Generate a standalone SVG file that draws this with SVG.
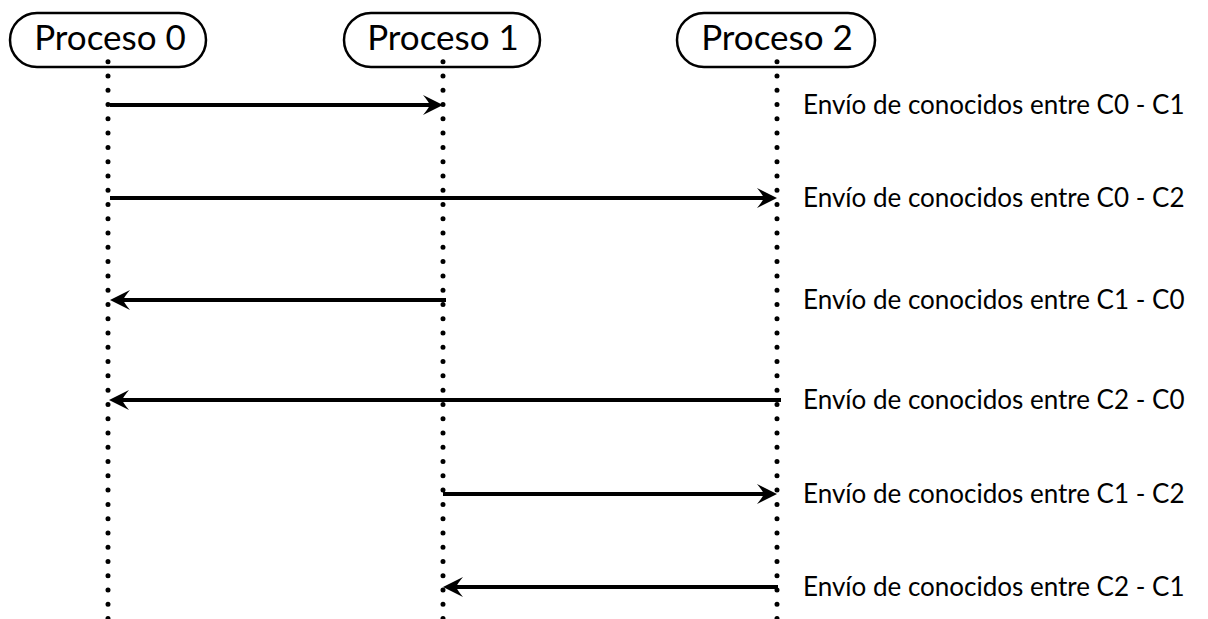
<svg xmlns="http://www.w3.org/2000/svg" width="1208" height="619" viewBox="0 0 1208 619">
  <style>
    .box { fill: #ffffff; stroke: #000000; stroke-width: 2.5; }
    .title { font-family: "Lato", "Open Sans", sans-serif; font-size: 35px; fill: #000000; text-anchor: middle; }
    .life { stroke: #000000; stroke-width: 5; stroke-linecap: round; stroke-dasharray: 0 14.28; fill: none; }
    .msg { stroke: #000000; stroke-width: 4; fill: none; marker-end: url(#head); }
    .label { font-family: "Lato", "Open Sans", sans-serif; font-size: 26px; fill: #000000; }
  </style>
  <defs>
    <marker id="head" viewBox="0 0 20 20" refX="7" refY="10" markerWidth="20" markerHeight="20" markerUnits="userSpaceOnUse" orient="auto">
      <path d="M20,10 L0,0 Q5,6 7,10 Q5,14 0,20 Z" fill="#000000"/>
    </marker>
  </defs>
  <rect width="1208" height="619" fill="#ffffff"/>

  <!-- process headers -->
  <g id="p0">
    <rect class="box" x="10" y="13" width="196" height="54" rx="27" ry="27"/>
    <text class="title" x="110" y="50">Proceso 0</text>
  </g>
  <g id="p1">
    <rect class="box" x="344" y="13" width="196" height="54" rx="27" ry="27"/>
    <text class="title" x="443" y="50">Proceso 1</text>
  </g>
  <g id="p2">
    <rect class="box" x="677" y="13" width="198" height="54" rx="27" ry="27"/>
    <text class="title" x="777" y="50">Proceso 2</text>
  </g>

  <!-- lifelines -->
  <g id="lifelines">
    <line class="life" x1="108" y1="61.7" x2="108" y2="622"/>
    <line class="life" x1="443" y1="61.7" x2="443" y2="622"/>
    <line class="life" x1="777" y1="61.7" x2="777" y2="622"/>
  </g>

  <!-- messages -->
  <g id="connectors">
    <line class="msg" x1="110" y1="105" x2="430" y2="105"/>
    <line class="msg" x1="110" y1="198" x2="764" y2="198"/>
    <line class="msg" x1="446" y1="300" x2="123" y2="300"/>
    <line class="msg" x1="781" y1="400" x2="122" y2="400"/>
    <line class="msg" x1="443" y1="494" x2="764" y2="494"/>
    <line class="msg" x1="778" y1="587" x2="456" y2="587"/>
  </g>

  <!-- message labels -->
  <g id="labels">
    <text class="label" x="803" y="114">Envío de conocidos entre C0 - C1</text>
    <text class="label" x="803" y="207">Envío de conocidos entre C0 - C2</text>
    <text class="label" x="803" y="309">Envío de conocidos entre C1 - C0</text>
    <text class="label" x="803" y="409">Envío de conocidos entre C2 - C0</text>
    <text class="label" x="803" y="503">Envío de conocidos entre C1 - C2</text>
    <text class="label" x="803" y="596">Envío de conocidos entre C2 - C1</text>
  </g>
</svg>
